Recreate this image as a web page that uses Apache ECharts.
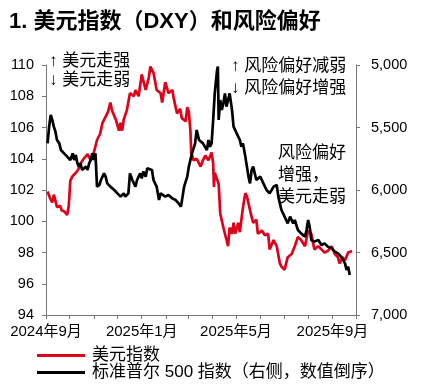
<!DOCTYPE html>
<html>
<head>
<meta charset="utf-8">
<script src="https://cdn.jsdelivr.net/npm/echarts@6/dist/echarts.min.js"></script>
<style>
html,body{margin:0;padding:0;background:#fff;}
#c{width:422px;height:386px;}
</style>
</head>
<body>
<div id="c"></div>
<script>
// ---- data ----
const dxyDates = ['2024-09-03','2024-09-06','2024-09-09','2024-09-11','2024-09-15','2024-09-19','2024-09-21','2024-09-25','2024-09-28','2024-09-30',
'2024-10-02','2024-10-05','2024-10-09','2024-10-12','2024-10-15','2024-10-19','2024-10-24','2024-10-28',
'2024-11-01','2024-11-05','2024-11-09','2024-11-12','2024-11-16','2024-11-19','2024-11-22','2024-11-24','2024-11-29',
'2024-12-03','2024-12-05','2024-12-07','2024-12-09','2024-12-13','2024-12-17','2024-12-22','2024-12-24','2024-12-28',
'2025-01-01','2025-01-06','2025-01-10','2025-01-12','2025-01-16','2025-01-18','2025-01-20','2025-01-25','2025-01-27','2025-01-31',
'2025-02-04','2025-02-09','2025-02-11','2025-02-15','2025-02-19','2025-02-21','2025-02-26','2025-02-28',
'2025-03-02','2025-03-04','2025-03-05','2025-03-08','2025-03-12','2025-03-17','2025-03-20','2025-03-23','2025-03-27','2025-03-31',
'2025-04-02','2025-04-03','2025-04-04','2025-04-09','2025-04-11','2025-04-15','2025-04-19','2025-04-21','2025-04-23','2025-04-26','2025-04-28','2025-04-30',
'2025-05-04','2025-05-06','2025-05-10','2025-05-13','2025-05-15','2025-05-19','2025-05-23','2025-05-27','2025-05-29',
'2025-06-03','2025-06-07','2025-06-11','2025-06-13','2025-06-18','2025-06-22','2025-06-26','2025-06-28',
'2025-07-02','2025-07-06','2025-07-11','2025-07-15','2025-07-19','2025-07-23','2025-07-28',
'2025-08-01','2025-08-05','2025-08-09','2025-08-14','2025-08-18','2025-08-22','2025-08-26','2025-08-31',
'2025-09-04','2025-09-08','2025-09-10','2025-09-14','2025-09-17','2025-09-21','2025-09-23','2025-09-26'];
const dxyValues = [101.9,101.5,101.2,101.7,100.9,101.0,100.7,100.6,100.4,101.0,
102.6,102.9,103.1,103.3,103.7,104.0,104.3,103.9,
104.4,105.2,105.6,106.3,106.7,107.0,107.6,107.1,106.5,
105.8,106.3,105.8,106.5,107.1,108.2,108.0,108.4,108.0,
109.4,108.4,109.2,109.9,109.5,109.4,108.4,108.2,107.6,108.9,
108.2,108.4,107.8,106.9,107.2,106.6,106.4,107.3,
107.0,105.8,104.4,103.9,104.0,103.5,103.9,104.2,103.9,104.4,
103.7,102.2,103.1,102.4,100.5,99.6,98.8,98.4,99.6,99.2,99.9,99.2,
99.9,99.3,100.9,101.8,101.6,100.7,99.9,100.1,99.2,
99.4,99.1,99.2,98.2,98.8,98.4,97.3,97.1,
96.9,97.7,97.9,98.4,99.0,98.8,98.4,
99.4,99.2,98.2,98.4,98.2,98.0,98.1,98.4,
97.9,97.7,97.3,97.7,97.5,98.0,97.9,98.1];

const spxDates = ['2024-09-03','2024-09-05','2024-09-07','2024-09-09','2024-09-11','2024-09-13','2024-09-15','2024-09-18','2024-09-20','2024-09-24','2024-09-28',
'2024-10-02','2024-10-05','2024-10-07','2024-10-09','2024-10-11','2024-10-13','2024-10-15','2024-10-17','2024-10-22','2024-10-24','2024-10-26','2024-10-28','2024-10-30',
'2024-11-01','2024-11-03','2024-11-05','2024-11-08','2024-11-10','2024-11-12','2024-11-14','2024-11-16','2024-11-18','2024-11-22','2024-11-27',
'2024-12-01','2024-12-05','2024-12-09','2024-12-11','2024-12-15','2024-12-17','2024-12-20','2024-12-24','2024-12-26','2024-12-30',
'2025-01-01','2025-01-03','2025-01-06','2025-01-08','2025-01-10','2025-01-14','2025-01-16','2025-01-18','2025-01-20','2025-01-23','2025-01-25','2025-01-27','2025-01-31',
'2025-02-04','2025-02-09','2025-02-13','2025-02-17','2025-02-20','2025-02-24','2025-02-28',
'2025-03-02','2025-03-06','2025-03-10','2025-03-12','2025-03-15','2025-03-20','2025-03-25','2025-03-27','2025-03-29','2025-03-31',
'2025-04-02','2025-04-04','2025-04-07','2025-04-08','2025-04-09','2025-04-11','2025-04-13','2025-04-15','2025-04-17','2025-04-19','2025-04-21','2025-04-23','2025-04-26','2025-04-28',
'2025-05-02','2025-05-06','2025-05-08','2025-05-10','2025-05-13','2025-05-15','2025-05-17','2025-05-19','2025-05-21','2025-05-23','2025-05-25','2025-05-27',
'2025-06-01','2025-06-05','2025-06-09','2025-06-13','2025-06-18','2025-06-22','2025-06-24','2025-06-28',
'2025-07-02','2025-07-04','2025-07-06','2025-07-09','2025-07-13','2025-07-15','2025-07-19','2025-07-23','2025-07-28','2025-07-30',
'2025-08-01','2025-08-03','2025-08-05','2025-08-09','2025-08-14','2025-08-18','2025-08-22','2025-08-26','2025-08-31',
'2025-09-04','2025-09-08','2025-09-12','2025-09-17','2025-09-19','2025-09-21','2025-09-23'];
const spxValues = [5627,5493,5400,5440,5493,5533,5600,5627,5680,5707,5733,
5760,5707,5760,5720,5787,5813,5787,5840,5813,5840,5787,5760,5707,
5760,5707,5973,5960,5920,5933,5867,5893,5947,5973,6000,
6027,6053,6027,6053,6027,5867,5920,5973,5920,5867,
5907,5853,5893,5827,5813,5840,5920,5947,5973,6080,6027,6013,6053,
6040,6067,6080,6107,6133,5973,5893,
5813,5707,5627,5520,5600,5627,5680,5600,5653,5627,
5440,5227,5040,5013,5440,5280,5360,5307,5227,5333,5280,5227,5360,5493,
5547,5600,5653,5627,5733,5813,5893,5947,5840,5813,5867,5920,
5893,5947,6000,6027,5973,5960,6053,6160,
6213,6240,6267,6213,6267,6240,6320,6347,6373,6320,
6240,6293,6400,6413,6400,6440,6427,6453,6467,
6493,6507,6533,6587,6640,6613,6680];

const xTickMonths = ['2024-09','2024-10','2024-11','2024-12','2025-01','2025-02','2025-03','2025-04','2025-05','2025-06','2025-07','2025-08','2025-09','2025-10'];
const xLabelMonths = ['2024-09','2025-01','2025-05','2025-09'];

const FONT = '"Liberation Sans", Arial, "Noto Sans CJK SC", sans-serif';
// date string -> timestamp (local)
const ts = (s) => { const p = s.split('-').map(Number); return new Date(p[0], p[1]-1, p[2] || 1).getTime(); };

const chart = echarts.init(document.getElementById('c'));
chart.setOption({
  backgroundColor: '#fff',
  animation: false,
  title: {
    text: '1. 美元指数（DXY）和风险偏好',
    left: 4, top: 6,
    textStyle: {fontFamily: FONT, fontSize: 22, fontWeight: 'bold', color: '#000'}
  },
  legend: {
    orient: 'vertical',
    left: 37, top: 347,
    padding: 0,
    itemGap: 0,
    itemWidth: 48, itemHeight: 3,
    icon: 'rect',
    textStyle: {fontFamily: FONT, fontSize: 17, color: '#000', lineHeight: 17, padding: [0,0,0,2]},
    data: ['美元指数', '标准普尔 500 指数（右侧，数值倒序）']
  },
  grid: {left: 46, right: 66, top: 65, bottom: 71},
  xAxis: {
    type: 'value',
    min: ts(xTickMonths[0]),
    max: ts(xTickMonths[xTickMonths.length-1]),
    axisLine: {lineStyle: {color: '#777', width: 1}},
    axisTick: {show: true, length: 4, lineStyle: {color: '#777'}, customValues: xTickMonths.map(ts)},
    axisLabel: {
      customValues: xLabelMonths.map(ts),
      fontFamily: FONT, fontSize: 15, color: '#000', margin: 9,
      formatter: (v) => { const d = new Date(v); return d.getFullYear() + '年' + (d.getMonth()+1) + '月'; }
    },
    splitLine: {show: false}
  },
  yAxis: [
    {
      type: 'value', min: 94, max: 110, interval: 2,
      axisLine: {show: true, lineStyle: {color: '#777'}},
      axisTick: {show: true, length: 4, lineStyle: {color: '#777'}},
      axisLabel: {fontFamily: FONT, fontSize: 14.5, color: '#000', margin: 12},
      splitLine: {show: false}
    },
    {
      type: 'value', min: 5000, max: 7000, interval: 500, inverse: true,
      axisLine: {show: true, lineStyle: {color: '#777'}},
      axisTick: {show: true, length: 4, lineStyle: {color: '#777'}},
      axisLabel: {fontFamily: FONT, fontSize: 14.5, color: '#000', margin: 15,
        formatter: (v) => v.toLocaleString('en-US')},
      splitLine: {show: false}
    }
  ],
  series: [
    {
      name: '美元指数', type: 'line', yAxisIndex: 0, showSymbol: false, symbol: 'none',
      lineStyle: {color: '#e0001a', width: 2.7}, itemStyle: {color: '#e0001a'},
      data: dxyDates.map((d, i) => [ts(d), dxyValues[i]])
    },
    {
      name: '标准普尔 500 指数（右侧，数值倒序）', type: 'line', yAxisIndex: 1, showSymbol: false, symbol: 'none',
      lineStyle: {color: '#000', width: 2.7}, itemStyle: {color: '#000'},
      data: spxDates.map((d, i) => [ts(d), spxValues[i]])
    }
  ],
  graphic: [
    {type: 'text', left: 49, top: 53, style: {text: '↑ 美元走强', font: '17px ' + FONT, fill: '#000'}},
    {type: 'text', left: 49, top: 72, style: {text: '↓ 美元走弱', font: '17px ' + FONT, fill: '#000'}},
    {type: 'text', left: 231, top: 58, style: {text: '↑ 风险偏好减弱', font: '17px ' + FONT, fill: '#000'}},
    {type: 'text', left: 231, top: 80, style: {text: '↓ 风险偏好增强', font: '17px ' + FONT, fill: '#000'}},
    {type: 'text', left: 278, top: 142, style: {text: '风险偏好\n增强，\n美元走弱', font: '17px ' + FONT, fill: '#000', lineHeight: 22}}
  ]
});
</script>
</body>
</html>
